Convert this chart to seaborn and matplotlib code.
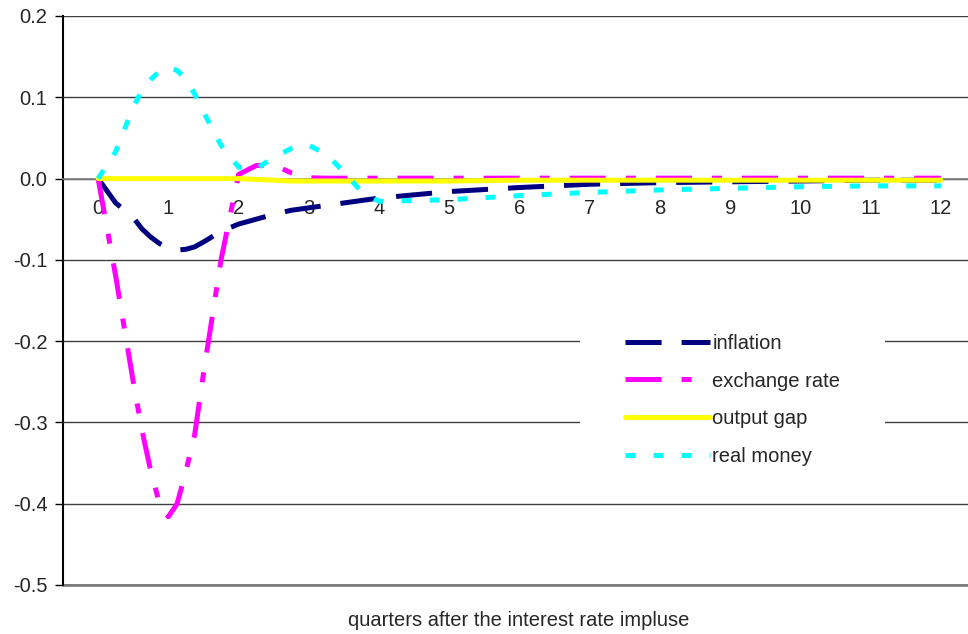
import numpy as np
import pandas as pd
import seaborn as sns
import matplotlib.pyplot as plt
from matplotlib.patches import Rectangle
from matplotlib.ticker import MultipleLocator, FormatStrFormatter

# quarters after the shock (finer steps early on where the curves move)
quarters = [0, 0.25, 0.5, 0.625, 0.75, 0.875, 1, 1.125, 1.25, 1.375, 1.5, 1.75,
            2, 2.25, 2.5, 2.75, 3, 3.25, 3.5, 3.75, 4, 5, 6, 7, 8, 9, 10, 11, 12]

inflation = [0, -0.030, -0.048, -0.062, -0.072, -0.080, -0.085, -0.088, -0.087,
             -0.084, -0.078, -0.065, -0.056, -0.050, -0.044, -0.039, -0.036,
             -0.033, -0.030, -0.027, -0.024, -0.016, -0.011, -0.007, -0.005,
             -0.004, -0.003, -0.002, -0.002]
exchange_rate = [0, -0.12, -0.25, -0.31, -0.36, -0.40, -0.416, -0.40, -0.36,
                 -0.315, -0.24, -0.10, 0.005, 0.016, 0.017, 0.007, 0.001,
                 0.0005, 0.0005, 0.0005, 0.0005, 0.0005, 0.0005, 0.0005,
                 0.0005, 0.0005, 0.0005, 0.0005, 0.0005]
output_gap = [0, 0, 0, 0, 0, 0, 0, 0, 0, 0, 0, 0, 0, -0.001, -0.002, -0.003,
              -0.003, -0.003, -0.003, -0.003, -0.003, -0.003, -0.002, -0.002,
              -0.002, -0.002, -0.002, -0.002, -0.002]
real_money = [0, 0.033, 0.088, 0.108, 0.122, 0.132, 0.137, 0.133, 0.122, 0.104,
              0.082, 0.041, 0.014, 0.012, 0.026, 0.037, 0.041, 0.030, 0.008,
              -0.016, -0.028, -0.026, -0.021, -0.017, -0.014, -0.012, -0.010,
              -0.009, -0.009]

series = ["inflation", "exchange rate", "output gap", "real money"]
colors = {"inflation": "#000080", "exchange rate": "#FF00FF",
          "output gap": "#FFFF00", "real money": "#00FFFF"}

df = pd.concat([
    pd.DataFrame({"quarter": quarters, "value": vals, "series": name})
    for name, vals in zip(series, [inflation, exchange_rate, output_gap, real_money])
])

sns.set_style("white")
plt.rcParams['font.family'] = ['Liberation Sans', 'DejaVu Sans']
plt.rcParams['axes.unicode_minus'] = False
plt.rcParams['lines.scale_dashes'] = False

FS = 14.5

fig = plt.figure(figsize=(9.68, 6.34), dpi=100)
ax = fig.add_axes([63 / 968, 1 - 585 / 634, 913 / 968, 569 / 634])

dashes = {"inflation": (26, 14.4),
          "exchange rate": (26, 14.4, 7.2, 14.4),
          "output gap": "",
          "real money": (7.2, 13)}

sns.lineplot(data=df, x="quarter", y="value", hue="series", style="series",
             hue_order=series, style_order=series, palette=colors,
             dashes=dashes, linewidth=3.6, sort=False, estimator=None,
             legend=False, ax=ax)

# later series on top, as in the original
for i, ln in enumerate(ax.lines[:4]):
    ln.set_zorder(3 + i)

ax.set_xlim(-0.5, 12.5)
ax.set_ylim(-0.5, 0.2)
ax.yaxis.set_major_locator(MultipleLocator(0.1))
ax.yaxis.set_major_formatter(FormatStrFormatter('%.1f'))
ax.grid(axis='y', color='#404040', linewidth=1)
ax.set_axisbelow(True)
ax.axhline(-0.5, color='#808080', linewidth=2, zorder=0.5, clip_on=False)

ax.set_xticks(range(13))
ax.set_xticks(np.arange(0.5, 12.5, 1), minor=True)
ax.tick_params(axis='x', which='major', length=0, pad=14.5, labelsize=FS)
ax.tick_params(axis='x', which='minor', length=4, direction='out', color='black')
ax.tick_params(axis='y', length=6, width=1, direction='out', pad=5.2, labelsize=FS,
               left=True, color='black')

ax.spines['bottom'].set_position(('data', 0))
ax.spines['bottom'].set_color('#808080')
ax.spines['bottom'].set_linewidth(1.2)
ax.spines['left'].set_color('black')
ax.spines['left'].set_linewidth(1.5)
ax.spines['top'].set_visible(False)
ax.spines['right'].set_visible(False)

ax.set_xlabel("")
ax.set_ylabel("")
fig.text(519 / 968, 1 - 620 / 634, "quarters after the interest rate impluse",
         ha='center', va='center', fontsize=FS)

# white legend area that interrupts the gridlines
ax.add_patch(Rectangle((580 / 968, 1 - 480 / 634), 305 / 968, 170 / 634,
                       transform=fig.transFigure, facecolor='white',
                       edgecolor='none', zorder=1))

handles = ax.lines[:4]
leg = ax.legend(handles, series, loc='upper left',
                bbox_to_anchor=(625 / 968, 1 - 334 / 634),
                bbox_transform=fig.transFigure, fontsize=FS,
                frameon=False, borderpad=0, borderaxespad=0,
                handlelength=85 / (FS * 100 / 72), handletextpad=0.12,
                labelspacing=0.92)

fig.savefig("out.png", dpi=100)
